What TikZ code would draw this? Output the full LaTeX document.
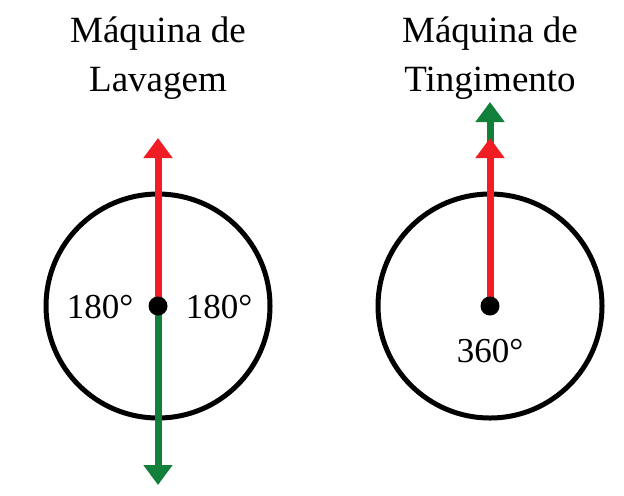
\documentclass[tikz,border=0pt]{standalone}
\usepackage{fontspec}
\setmainfont{Liberation Serif}
\usetikzlibrary{arrows.meta}
\definecolor{turnred}{RGB}{240,30,36}
\definecolor{turngreen}{RGB}{16,128,58}

\begin{document}
\begin{tikzpicture}[x=0.5pt, y=-0.5pt,
	drum/.style={draw, circle, line width=2.5pt, minimum size=112pt, inner sep=0pt},
	hub/.style={fill, circle, minimum size=9.5pt, inner sep=0pt},
	turn/.style={line width=3.5pt, -{Triangle[width=14pt, length=10pt]}},
	title/.style={align=center, font=\fontsize{18.5}{24.5}\selectfont},
	angle/.style={font=\fontsize{17.5}{20}\selectfont}]
	\useasboundingbox (0,0) rectangle (624,495);
	% washing machine: half turn each way
	\node[title] (washname) at (158,58) {Máquina de\\Lavagem};
	\node[drum] (wash) at (158,306) {};
	\coordinate (washup) at (158,138);
	\coordinate (washdown) at (158,485);
	\draw[turn, turngreen] (wash.center) -- (washdown);
	\draw[turn, turnred] (wash.center) -- (washup);
	\node[hub] (washhub) at (wash.center) {};
	\node[angle] (washleft) at (100,307) {180°};
	\node[angle] (washright) at (219,307) {180°};
	% dyeing machine: full turn, one way
	\node[title] (dyename) at (490,58) {Máquina de\\Tingimento};
	\node[drum] (dye) at (490,306) {};
	\coordinate (dyeouter) at (490,102);
	\coordinate (dyeinner) at (490,138);
	\draw[turn, turngreen] (dye.center) -- (dyeouter);
	\draw[turn, turnred] (dye.center) -- (dyeinner);
	\node[hub] (dyehub) at (dye.center) {};
	\node[angle] (dyefull) at (490,351) {360°};
\end{tikzpicture}
\end{document}
